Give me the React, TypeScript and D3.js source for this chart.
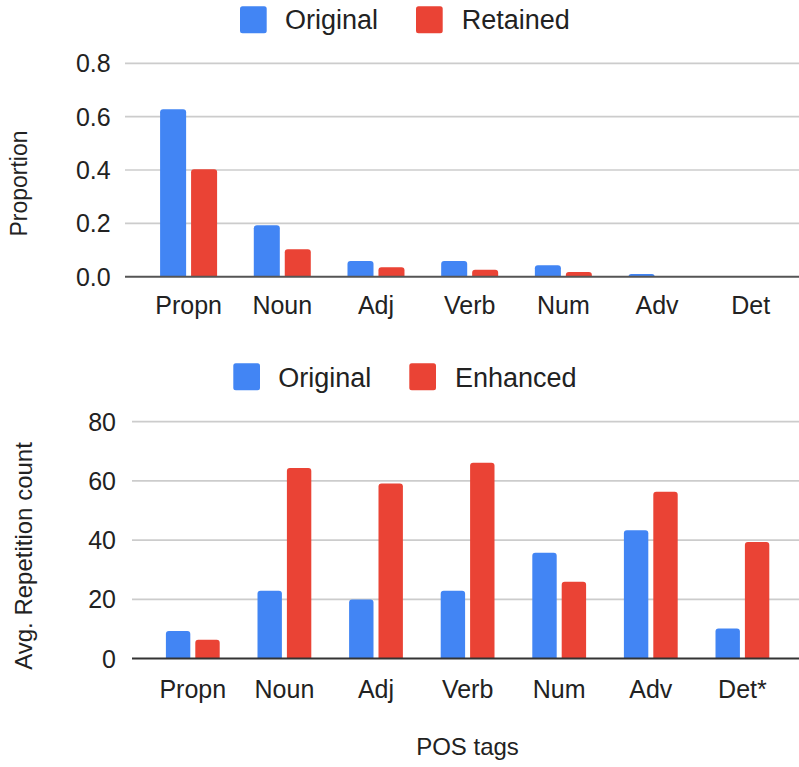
import React from "react";
import * as d3 from "d3";

const categoriesTop = ["Propn", "Noun", "Adj", "Verb", "Num", "Adv", "Det"];
const topOriginal = [0.628, 0.193, 0.059, 0.059, 0.043, 0.01, 0];
const topRetained = [0.403, 0.103, 0.035, 0.026, 0.018, 0, 0];
const topTicks = [0, 0.2, 0.4, 0.6, 0.8];

const categoriesBottom = ["Propn", "Noun", "Adj", "Verb", "Num", "Adv", "Det*"];
const bottomOriginal = [9.3, 22.9, 19.9, 22.9, 35.7, 43.3, 10.1];
const bottomEnhanced = [6.3, 64.4, 59.1, 66.1, 25.9, 56.3, 39.4];
const bottomTicks = [0, 20, 40, 60, 80];

const BLUE = "#4285F4";
const RED = "#EA4335";
const FONT = "'Liberation Sans', Arial, sans-serif";

type PanelProps = {
  cats: string[];
  s1: number[];
  s2: number[];
  ticks: number[];
  yDomain: [number, number];
  yRange: [number, number];
  xRange: [number, number];
  groupWidth: number;
  padInner: number;
  gridX0: number;
  tickRight: number;
  tickFmt: (v: number) => string;
  labelBaseline: number;
  baseColor: string;
};

function Panel(p: PanelProps) {
  const x = d3.scaleBand<string>().domain(p.cats).range(p.xRange);
  const inner = d3
    .scaleBand<string>()
    .domain(["a", "b"])
    .range([-p.groupWidth / 2, p.groupWidth / 2])
    .paddingInner(p.padInner);
  const y = d3.scaleLinear().domain(p.yDomain).range(p.yRange);
  const bw = inner.bandwidth();
  const bar = (c: string, v: number, k: string, color: string) => {
    const cx = (x(c) as number) + x.bandwidth() / 2;
    const x0 = cx + (inner(k) as number);
    const top = y(v);
    const h = y(0) - top;
    if (h <= 0.3) return null;
    const r = Math.min(3, h);
    const path = `M${x0},${y(0)} V${top + r} Q${x0},${top} ${x0 + r},${top} H${x0 + bw - r} Q${x0 + bw},${top} ${x0 + bw},${top + r} V${y(0)} Z`;
    return <path key={k + c} d={path} fill={color} />;
  };
  return (
    <g>
      {p.ticks.map((t) => (
        <g key={t}>
          {t !== 0 && (
            <line x1={p.gridX0} x2={799} y1={y(t)} y2={y(t)} stroke="#cccccc" strokeWidth={1.7} />
          )}
          <text
            x={p.tickRight}
            y={y(t)}
            dy="0.36em"
            textAnchor="end"
            fontSize={25}
            fill="#222"
            fontFamily={FONT}
          >
            {p.tickFmt(t)}
          </text>
        </g>
      ))}
      {p.cats.map((c, i) => bar(c, p.s1[i], "a", BLUE))}
      {p.cats.map((c, i) => bar(c, p.s2[i], "b", RED))}
      <line x1={p.gridX0} x2={799} y1={y(0)} y2={y(0)} stroke={p.baseColor} strokeWidth={2} />
      {p.cats.map((c) => (
        <text
          key={"l" + c}
          x={(x(c) as number) + x.bandwidth() / 2}
          y={p.labelBaseline}
          textAnchor="middle"
          fontSize={25}
          fill="#222"
          fontFamily={FONT}
        >
          {c}
        </text>
      ))}
    </g>
  );
}

function Legend({ x1, t1, x2, t2, top, baseline, l1, l2 }: any) {
  return (
    <g fontFamily={FONT} fontSize={27} fill="#222">
      <rect x={x1} y={top} width={26.7} height={27} rx={2.5} fill={BLUE} />
      <text x={t1} y={baseline}>{l1}</text>
      <rect x={x2} y={top} width={26.7} height={27} rx={2.5} fill={RED} />
      <text x={t2} y={baseline}>{l2}</text>
    </g>
  );
}

export default function App() {
  return (
    <svg
      width={799}
      height={767}
      style={{ position: "absolute", left: 0, top: 0, background: "#fff" }}
    >
      <rect width={799} height={767} fill="#fff" />
      <Legend x1={240} t1={285} x2={416} t2={461.7} top={6.2} baseline={28.5} l1="Original" l2="Retained" />
      <Panel
        cats={categoriesTop}
        s1={topOriginal}
        s2={topRetained}
        ticks={topTicks}
        yDomain={[0, 0.8]}
        yRange={[276.7, 63.3]}
        xRange={[141.75, 797.6]}
        groupWidth={57}
        padInner={0.16}
        gridX0={125}
        tickRight={110.7}
        tickFmt={(v) => v.toFixed(1)}
        labelBaseline={314}
        baseColor="#555"
      />
      <text
        transform="translate(27,183.5) rotate(-90)"
        textAnchor="middle"
        fontSize={23}
        fill="#222"
        fontFamily={FONT}
      >
        Proportion
      </text>

      <Legend x1={233.3} t1={278.3} x2={409.3} t2={455} top={363.3} baseline={386.7} l1="Original" l2="Enhanced" />
      <Panel
        cats={categoriesBottom}
        s1={bottomOriginal}
        s2={bottomEnhanced}
        ticks={bottomTicks}
        yDomain={[0, 80]}
        yRange={[658.5, 421.7]}
        xRange={[147, 788.2]}
        groupWidth={53.8}
        padInner={0.17}
        gridX0={132}
        tickRight={116}
        tickFmt={(v) => String(v)}
        labelBaseline={698}
        baseColor="#333"
      />
      <text
        transform="translate(32,556) rotate(-90)"
        textAnchor="middle"
        fontSize={24}
        fill="#222"
        fontFamily={FONT}
      >
        Avg. Repetition count
      </text>
      <text x={467.5} y={754.5} textAnchor="middle" fontSize={24} fill="#222" fontFamily={FONT}>
        POS tags
      </text>
    </svg>
  );
}
